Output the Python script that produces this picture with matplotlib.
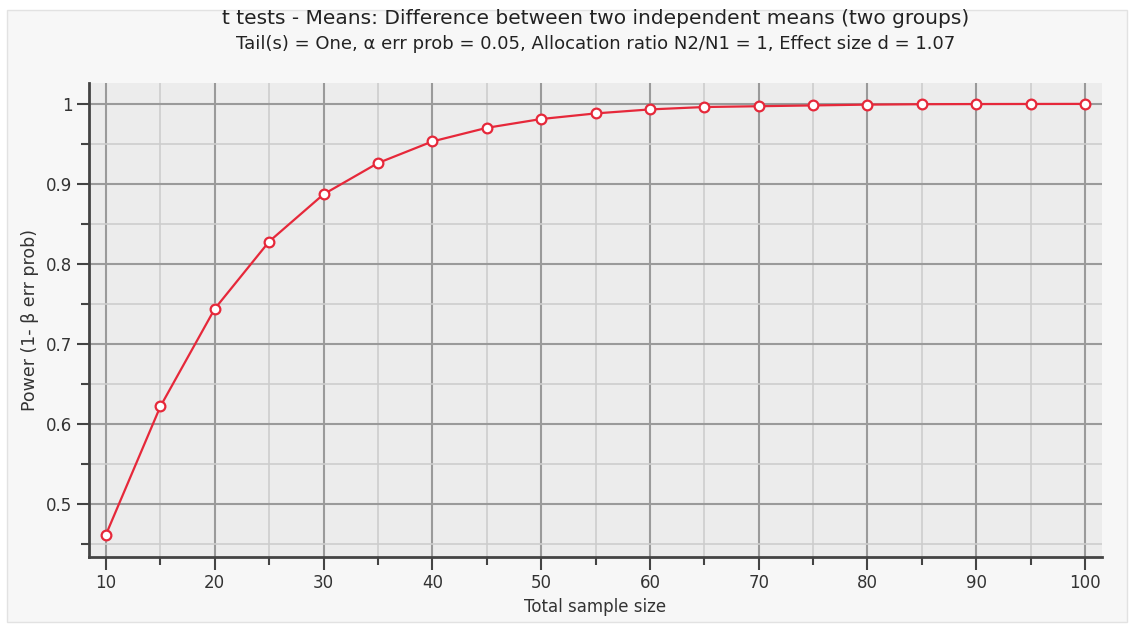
import matplotlib.pyplot as plt
from matplotlib.patches import Rectangle
from matplotlib.ticker import MultipleLocator

plt.rcParams['font.family'] = ['DejaVu Sans']

sample_size = [10, 15, 20, 25, 30, 35, 40, 45, 50, 55, 60, 65, 70, 75, 80, 85, 90, 95, 100]
power = [0.462, 0.622, 0.744, 0.828, 0.887, 0.926, 0.953, 0.970, 0.981, 0.988,
         0.993, 0.996, 0.997, 0.998, 0.999, 0.9995, 0.9997, 0.9998, 0.9999]

title = "t tests - Means: Difference between two independent means (two groups)"
subtitle = "Tail(s) = One, \u03b1 err prob = 0.05, Allocation ratio N2/N1 = 1, Effect size d = 1.07"

W, H = 1135, 626
fig = plt.figure(figsize=(W / 100, H / 100), dpi=100)
fig.patch.set_facecolor('white')

# light panel behind everything
fig.patches.append(Rectangle((7 / W, 1 - 622 / H), 1120 / W, 612 / H,
                             transform=fig.transFigure, facecolor='#f7f7f7',
                             edgecolor='#e2e2e2', lw=1, zorder=-10))

left, right, top, bottom = 89, 1102, 83, 557
ax = fig.add_axes([left / W, 1 - bottom / H, (right - left) / W, (bottom - top) / H])
ax.set_facecolor('#ececec')

ax.plot(sample_size, power, color='#e6283a', lw=1.6, marker='o', ms=7,
        mfc='white', mec='#e6283a', mew=1.6, zorder=3, clip_on=False)

ax.set_xlim(8.44, 101.56)
ax.set_ylim(0.434, 1.026)
ax.xaxis.set_major_locator(MultipleLocator(10))
ax.xaxis.set_minor_locator(MultipleLocator(5))
ax.yaxis.set_major_locator(MultipleLocator(0.1))
ax.yaxis.set_minor_locator(MultipleLocator(0.05))
ax.yaxis.set_major_formatter(plt.FuncFormatter(lambda v, p: f"{v:g}"))

ax.grid(which='major', color='#9a9a9a', lw=1.5)
ax.grid(which='minor', color='#cdcdcd', lw=1.2)
ax.set_axisbelow(True)

for s in ['top', 'right']:
    ax.spines[s].set_visible(False)
for s in ['left', 'bottom']:
    ax.spines[s].set_color('#444444')
    ax.spines[s].set_linewidth(2)

ax.tick_params(which='major', length=9, width=1.5, color='#444444',
               labelsize=12, labelcolor='#333333', pad=3)
ax.tick_params(which='minor', length=6, width=1.5, color='#444444')

ax.set_xlabel("Total sample size", fontsize=12, color='#333333')
ax.set_ylabel("Power (1- \u03b2 err prob)", fontsize=12.5, color='#333333')
ax.xaxis.set_label_coords(0.5, (bottom - 598) / (bottom - top))
ax.yaxis.set_label_coords((39 - left) / (right - left), 0.5)

fig.text((left + right) / 2 / W, 1 - 19 / H, title, ha='center', va='center',
         fontsize=14.5, color='#222222')
fig.text((left + right) / 2 / W, 1 - 44 / H, subtitle, ha='center', va='center',
         fontsize=13, color='#222222')

fig.savefig('out.png', dpi=100)
